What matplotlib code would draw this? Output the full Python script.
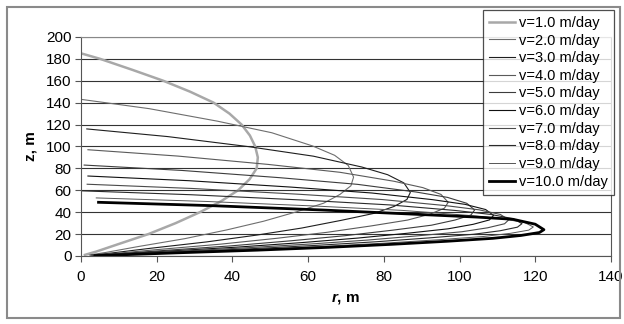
import matplotlib
matplotlib.use("Agg")
import matplotlib.pyplot as plt
from matplotlib.patches import Rectangle

plt.rcParams['font.family'] = ['Liberation Sans', 'DejaVu Sans']
plt.rcParams['mathtext.fontset'] = 'custom'
plt.rcParams['mathtext.bfit'] = 'Liberation Sans:bold:italic'
plt.rcParams['mathtext.rm'] = 'Liberation Sans'

# curve data: radius r (m) and height z (m), one curve per velocity
r_v1 = [0, 5, 13.5, 21.7, 28.8, 35, 39.2, 42.4, 44.6, 46, 46.7, 46.4, 44.5, 41.5, 37, 31.4, 25, 17.8, 10, 4, 1]
z_v1 = [185, 180, 170, 160, 150, 140, 130, 120, 110, 100, 90, 80, 70, 60, 50, 40, 30, 20, 11, 4, 1]

r_v2 = [0, 18, 36, 50.4, 61.2, 67, 70.6, 72, 71.3, 68.4, 64.1, 56.9, 48.2, 38.5, 27.4, 15.1, 6.5, 2.2]
z_v2 = [143, 134.5, 123.1, 112.5, 100.4, 91.9, 82.6, 72, 64.1, 56.2, 48.2, 40.3, 31.7, 23.8, 15.8, 8.6, 3.2, 0.9]

r_v3 = [1.5, 22.9, 44.3, 61.4, 74.2, 81, 85.3, 87, 86.1, 82.7, 77.4, 68.7, 58.3, 46.5, 33.1, 18.3, 7.8, 2.6]
z_v3 = [116, 109, 99.8, 91.1, 81.2, 74.2, 66.7, 58, 51.6, 45.2, 38.9, 32.5, 25.5, 19.1, 12.8, 7.0, 2.6, 0.7]

r_v4 = [1.8, 25.6, 49.4, 68.4, 82.7, 90.3, 95.1, 97, 96.0, 92.2, 86.3, 76.6, 65.0, 51.9, 36.9, 20.4, 8.7, 2.9]
z_v4 = [97, 91.2, 83.6, 76.4, 68.2, 62.4, 56.2, 49, 43.6, 38.2, 32.8, 27.4, 21.6, 16.2, 10.8, 5.9, 2.2, 0.6]

r_v5 = [0.8, 26.6, 52.4, 73.0, 88.5, 96.8, 101.9, 104, 103.0, 98.8, 92.6, 82.2, 69.7, 55.6, 39.5, 21.8, 9.4, 3.1]
z_v5 = [83, 78.1, 71.5, 65.4, 58.4, 53.5, 48.1, 42, 37.4, 32.8, 28.1, 23.5, 18.5, 13.9, 9.2, 5.0, 1.9, 0.5]

r_v6 = [1.8, 28.6, 55.4, 76.8, 92.9, 101.5, 106.9, 109, 107.9, 103.6, 97.0, 86.1, 73.0, 58.3, 41.4, 22.9, 9.8, 3.3]
z_v6 = [73, 68.7, 62.9, 57.5, 51.4, 47.1, 42.4, 37, 32.9, 28.9, 24.8, 20.7, 16.3, 12.2, 8.1, 4.4, 1.7, 0.4]

r_v7 = [1.6, 29.5, 57.3, 79.6, 96.3, 105.2, 110.8, 113, 111.9, 107.4, 100.6, 89.3, 75.7, 60.5, 42.9, 23.7, 10.2, 3.4]
z_v7 = [65.5, 61.6, 56.4, 51.5, 46.0, 42.1, 37.9, 33, 29.4, 25.7, 22.1, 18.5, 14.5, 10.9, 7.3, 4.0, 1.5, 0.4]

r_v8 = [0, 29.1, 58.3, 81.6, 99.0, 108.3, 114.2, 116.5, 115.3, 110.7, 103.7, 92.0, 78.1, 62.3, 44.3, 24.5, 10.5, 3.5]
z_v8 = [59.5, 55.9, 51.1, 46.6, 41.5, 37.9, 34.0, 29.5, 26.3, 23.0, 19.8, 16.5, 13.0, 9.7, 6.5, 3.5, 1.3, 0.4]

r_v9 = [4, 32.9, 61.8, 84.9, 102.2, 111.4, 117.2, 119.5, 118.3, 113.5, 106.4, 94.4, 80.1, 63.9, 45.4, 25.1, 10.8, 3.6]
z_v9 = [53, 49.8, 45.6, 41.6, 37.1, 33.9, 30.5, 26.5, 23.6, 20.7, 17.8, 14.8, 11.7, 8.7, 5.8, 3.2, 1.2, 0.3]

r_v10 = [4.6, 34.0, 63.5, 87, 104.6, 114.1, 120, 122.3, 121.1, 116.2, 108.8, 96.6, 81.9, 65.4, 46.5, 25.7, 11, 3.7]
z_v10 = [49, 46, 42, 38.3, 35.5, 33.5, 29, 24, 21.4, 18.7, 16.1, 13.4, 10.6, 7.9, 5.3, 2.9, 1.1, 0.3]

velocities = [1.0, 2.0, 3.0, 4.0, 5.0, 6.0, 7.0, 8.0, 9.0, 10.0]
r_all = [r_v1, r_v2, r_v3, r_v4, r_v5, r_v6, r_v7, r_v8, r_v9, r_v10]
z_all = [z_v1, z_v2, z_v3, z_v4, z_v5, z_v6, z_v7, z_v8, z_v9, z_v10]

colors = ['#a8a8a8', '#6e6e6e', '#1e1e1e', '#5a5a5a', '#3c3c3c',
          '#111111', '#4a4a4a', '#2a2a2a', '#555555', '#000000']
widths = [1.8, 0.8, 0.8, 0.8, 0.8, 0.8, 0.8, 0.8, 0.7, 2.0]

fig = plt.figure(figsize=(6.24, 3.24), dpi=100)
ax = fig.add_axes([0.130, 0.210, 0.849, 0.676])

for v, r, z, c, w in zip(velocities, r_all, z_all, colors, widths):
    ax.plot(r, z, color=c, lw=w, label=f'v={v:.1f} m/day')

ax.set_xlim(0, 140)
ax.set_ylim(0, 200)
ax.set_xticks(range(0, 141, 20))
ax.set_yticks(range(0, 201, 20))
ax.yaxis.grid(True, color='#333333', lw=0.8)
ax.set_axisbelow(True)
for side in ['left', 'bottom']:
    ax.spines[side].set_color('#555555')
ax.spines['top'].set_color('#888888')
ax.spines['right'].set_color('#555555')
ax.tick_params(direction='out', length=4, width=0.8, color='#555555',
               labelsize=11, pad=3)
ax.tick_params(axis='x', pad=6)

ax.set_xlabel(r'$\mathbfit{r}$, m', fontsize=11, fontweight='bold', labelpad=5)
ax.set_ylabel('z, m', fontsize=11, fontweight='bold', labelpad=6)

leg = fig.legend(loc='upper left', bbox_to_anchor=(0.774, 0.969), fontsize=10.5,
                 frameon=True, fancybox=False, edgecolor='#222222',
                 handlelength=1.8, handletextpad=0.3, labelspacing=0.25,
                 borderpad=0.4, borderaxespad=0)
leg.get_frame().set_linewidth(0.9)

fig.patches.append(Rectangle((0.012, 0.018), 0.982, 0.96, transform=fig.transFigure,
                             fill=False, edgecolor='#8a8a8a', lw=1.5))

fig.savefig('out.png', dpi=100)
